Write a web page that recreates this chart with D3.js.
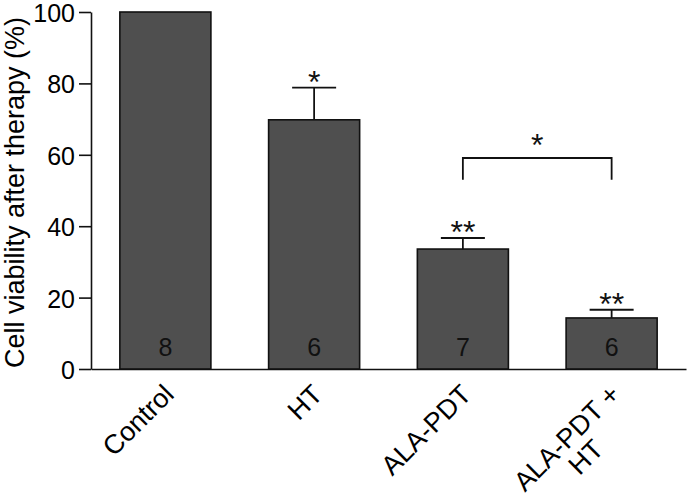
<!DOCTYPE html>
<html>
<head>
<meta charset="utf-8">
<script src="https://cdn.jsdelivr.net/npm/d3@7"></script>
<style>
  html, body { margin: 0; padding: 0; background: #fff; }
  svg { display: block; font-family: "Liberation Sans", Arial, Helvetica, sans-serif; }
</style>
</head>
<body>
<div id="chart"></div>
<script>
// Data
const categories = ['Control', 'HT', 'ALA-PDT', 'ALA-PDT +\nHT'];
const viability = [100, 69.8, 33.6, 14.3];
const errorUpper = [0, 9.0, 3.1, 2.3];   // SEM shown above the bar
const nCounts = [8, 6, 7, 6];
const stars = ['', '*', '**', '**'];
const yTicks = [0, 20, 40, 60, 80, 100];
// Comparison bracket between ALA-PDT and ALA-PDT + HT
const bracket = { from: 2, to: 3, level: 59.1, foot: 53, label: '*' };

const width = 689, height = 497;
const margin = { top: 12, right: 3, bottom: 128, left: 91 };

const svg = d3.select('#chart').append('svg')
  .attr('width', width)
  .attr('height', height);

svg.append('rect').attr('width', width).attr('height', height).attr('fill', '#fff');

const x = d3.scaleBand()
  .domain(categories)
  .range([margin.left, width - margin.right])
  .paddingInner(0.388)
  .paddingOuter(0.194);

const y = d3.scaleLinear()
  .domain([0, 100])
  .range([height - margin.bottom, margin.top]);

const xc = i => x(categories[i]) + x.bandwidth() / 2;

// --- Y axis ---
const yAxis = svg.append('g')
  .attr('transform', `translate(${margin.left},0)`)
  .call(d3.axisLeft(y).tickValues(yTicks).tickSize(12).tickSizeOuter(0).tickPadding(4));
yAxis.select('.domain').attr('stroke', '#111').attr('stroke-width', 1.6);
yAxis.selectAll('.tick line').attr('stroke', '#111').attr('stroke-width', 1.6);
yAxis.selectAll('.tick text')
  .attr('fill', '#000')
  .style('font-size', '25px')
  .style('font-family', '"Liberation Sans", Arial, sans-serif')
  .attr('dy', '0.38em');

// Y title
svg.append('text')
  .attr('transform', `translate(24,${(margin.top + height - margin.bottom) / 2 + 2}) rotate(-90)`)
  .attr('text-anchor', 'middle')
  .attr('fill', '#000')
  .style('font-size', '27px')
  .text('Cell viability after therapy (%)');

// --- X axis line ---
const xAxis = svg.append('g')
  .attr('transform', `translate(0,${y(0)})`)
  .call(d3.axisBottom(x).tickSize(0).tickSizeOuter(0).tickFormat(''));
xAxis.select('.domain').attr('stroke', '#111').attr('stroke-width', 1.6);

// --- Bars ---
svg.append('g').selectAll('rect')
  .data(viability)
  .join('rect')
  .attr('x', (d, i) => x(categories[i]))
  .attr('y', d => y(d))
  .attr('width', x.bandwidth())
  .attr('height', d => y(0) - y(d))
  .attr('fill', '#4f4f4f')
  .attr('stroke', '#111')
  .attr('stroke-width', 1.6);

// --- Error bars (upper only) ---
const capHalf = 22;
const err = svg.append('g').attr('stroke', '#111').attr('stroke-width', 1.8);
viability.forEach((v, i) => {
  if (!errorUpper[i]) return;
  const top = y(v + errorUpper[i]);
  err.append('line')
    .attr('x1', xc(i)).attr('x2', xc(i))
    .attr('y1', y(v)).attr('y2', top);
  err.append('line')
    .attr('x1', xc(i) - capHalf).attr('x2', xc(i) + capHalf)
    .attr('y1', top).attr('y2', top);
});

// --- Significance stars ---
stars.forEach((s, i) => {
  if (!s) return;
  svg.append('text')
    .attr('x', xc(i))
    .attr('y', y(viability[i] + errorUpper[i]) + 5)
    .attr('text-anchor', 'middle')
    .attr('fill', '#111')
    .style('font-size', '32px')
    .text(s);
});

// --- Bracket ---
const bx1 = xc(bracket.from), bx2 = xc(bracket.to);
svg.append('path')
  .attr('d', `M${bx1},${y(bracket.foot)}V${y(bracket.level)}H${bx2}V${y(bracket.foot)}`)
  .attr('fill', 'none')
  .attr('stroke', '#111')
  .attr('stroke-width', 1.8);
svg.append('text')
  .attr('x', (bx1 + bx2) / 2)
  .attr('y', y(bracket.level) - 2)
  .attr('text-anchor', 'middle')
  .attr('fill', '#111')
  .style('font-size', '32px')
  .text(bracket.label);

// --- n per group inside bars ---
svg.append('g').selectAll('text')
  .data(nCounts)
  .join('text')
  .attr('x', (d, i) => xc(i))
  .attr('y', y(0) - 13)
  .attr('text-anchor', 'middle')
  .attr('fill', '#111')
  .style('font-size', '25px')
  .text(d => d);

// --- Rotated category labels ---
categories.forEach((c, i) => {
  const lines = c.split('\n');
  const g = svg.append('g')
    .attr('transform', `translate(${xc(i) + 10},${y(0) + 27}) rotate(-45)`);
  const first = g.append('text')
    .attr('text-anchor', 'end')
    .attr('fill', '#000')
    .style('font-size', '27px')
    .text(lines[0]);
  if (lines.length > 1) {
    const w = first.node().getComputedTextLength();
    g.append('text')
      .attr('x', -w / 2)
      .attr('y', 27)
      .attr('text-anchor', 'middle')
      .attr('fill', '#000')
      .style('font-size', '27px')
      .text(lines[1]);
  }
});
</script>
</body>
</html>
